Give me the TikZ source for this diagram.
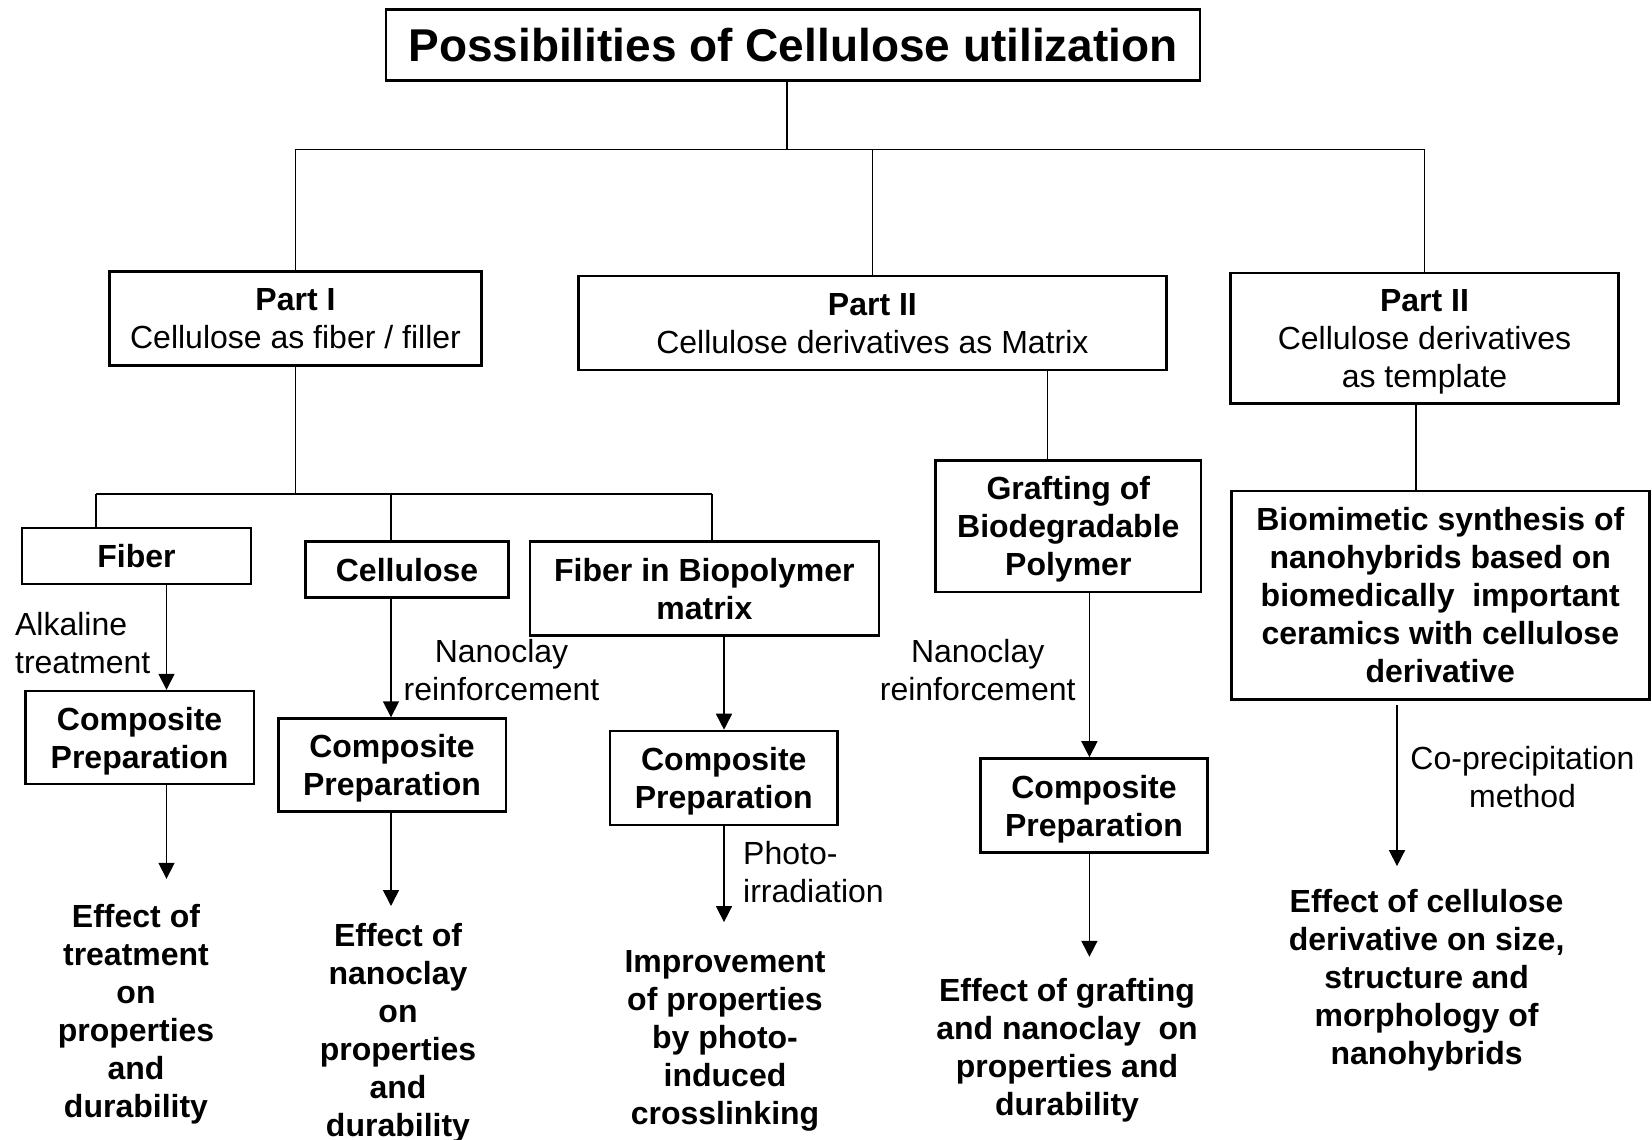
\documentclass[tikz,border=0pt]{standalone}
\usepackage{fontspec}
\setmainfont{Liberation Sans}
\usetikzlibrary{arrows.meta}
\tikzset{
  cbox/.style={draw, line width=1.3pt, inner sep=0pt, text depth=0pt, align=center, font=\fontsize{16pt}{19pt}\selectfont},
  bbox/.style={cbox, font=\fontsize{16pt}{19pt}\selectfont\bfseries},
  titlebox/.style={cbox, font=\fontsize{23pt}{27pt}\selectfont\bfseries},
  result/.style={inner sep=0pt, align=center, anchor=north, font=\fontsize{16pt}{19pt}\selectfont\bfseries},
  note/.style={inner sep=0pt, font=\fontsize{16pt}{19pt}\selectfont},
  link/.style={line width=0.8pt},
  arr/.style={link, -{Triangle[length=8pt, width=8pt]}},
}

\begin{document}
\begin{tikzpicture}[x=0.5pt, y=-0.5pt]
  \useasboundingbox (0,0) rectangle (1652,1139);
  \node[titlebox, minimum width=407pt, minimum height=35.75pt] (T) at (793,45) {Possibilities of Cellulose utilization};
  \node[cbox, minimum width=186pt, minimum height=47pt] (P1) at (295.5,318.7) {\textbf{Part I}\\Cellulose as fiber / filler};
  \node[cbox, minimum width=294pt, minimum height=47pt] (P2) at (872.4,323) {\textbf{Part II}\\Cellulose derivatives as Matrix};
  \node[cbox, minimum width=194pt, minimum height=65.3pt] (P3) at (1424.5,338.2) {\textbf{Part II}\\Cellulose derivatives\\as template};
  \node[bbox, minimum width=114.5pt, minimum height=28pt] (F1) at (136.5,556) {Fiber};
  \node[bbox, minimum width=101.75pt, minimum height=28pt] (F2) at (407,569.5) {Cellulose};
  \node[bbox, minimum width=174.4pt, minimum height=47pt] (F3) at (704.4,588.4) {Fiber in Biopolymer\\matrix};
  \node[bbox, minimum width=132.75pt, minimum height=65.85pt] (G) at (1068.3,526.3) {Grafting of\\Biodegradable\\Polymer};
  \node[bbox, minimum width=209pt, minimum height=104.3pt] (B) at (1440.3,595.3) {Biomimetic synthesis of\\nanohybrids based on\\biomedically\ \ important\\ceramics with cellulose\\derivative};
  \node[bbox, minimum width=114.3pt, minimum height=46.4pt] (C1) at (139.6,737.5) {Composite\\Preparation};
  \node[bbox, minimum width=113.8pt, minimum height=46.4pt] (C2) at (392,765) {Composite\\Preparation};
  \node[bbox, minimum width=113.8pt, minimum height=47pt] (C3) at (723.8,778) {Composite\\Preparation};
  \node[bbox, minimum width=113.3pt, minimum height=47pt] (C4) at (1094,805.5) {Composite\\Preparation};
  \node[result] (E1) at (136,904) {Effect of\\treatment\\on\\properties\\and\\durability};
  \node[result] (E2) at (398,923) {Effect of\\nanoclay\\on\\properties\\and\\durability};
  \node[result] (E3) at (725,950.5) {Improvement\\of properties\\by photo-\\induced\\crosslinking};
  \node[result] (E4) at (1067,978) {Effect of grafting\\and nanoclay\ \ on\\properties and\\durability};
  \node[result] (E5) at (1426.6,888.5) {Effect of cellulose\\derivative on size,\\structure and\\morphology of\\nanohybrids};
  \node[note, anchor=west, align=left] (L1) at (14.75,642.7) {Alkaline\\treatment};
  \node[note, align=center] (L2) at (501.5,670) {Nanoclay\\reinforcement};
  \node[note, anchor=west, align=left] (L3) at (742.8,872.4) {Photo-\\irradiation};
  \node[note, align=center] (L4) at (977.7,670) {Nanoclay\\reinforcement};
  \node[note, align=center] (L5) at (1522.5,777.5) {Co-precipitation\\method};

  \coordinate (hub) at (787,149.6);
  \coordinate (hub2) at (292,494);
  \coordinate (d1) at (96,494);
  \coordinate (d2) at (391,494);
  \coordinate (d3) at (712,494);
  \coordinate (a1) at (166.5,0);
  \coordinate (a3) at (724,0);
  \coordinate (a4) at (1089.4,0);
  \coordinate (a5) at (1397,0);
  \coordinate (g1) at (1047.3,0);
  \coordinate (b1) at (1416,0);

  \draw[link] (T.south -| hub) -- (hub);
  \draw[link] (P1.north) |- (hub) -| (P3.north);
  \draw[link] (P2.north) -- (P2.north |- hub);
  \draw[link] (P1.south) -- (P1.south |- hub2);
  \draw[link] (d1) -- (d3);
  \draw[link] (d1) -- (F1.north -| d1);
  \draw[link] (d2) -- (F2.north -| d2);
  \draw[link] (d3) -- (F3.north -| d3);
  \draw[link] (P2.south -| g1) -- (G.north -| g1);
  \draw[link] (P3.south -| b1) -- (B.north -| b1);

  \draw[arr] (F1.south -| a1) -- (C1.north -| a1);
  \draw[arr, shorten >=12.6pt] (C1.south -| a1) -- (E1.north -| a1);
  \draw[arr] (F2.south -| d2) -- (C2.north -| d2);
  \draw[arr, shorten >=8.5pt] (C2.south -| d2) -- (E2.north -| d2);
  \draw[arr] (F3.south -| a3) -- (C3.north -| a3);
  \draw[arr, shorten >=14.2pt] (C3.south -| a3) -- (E3.north -| a3);
  \draw[arr] (G.south -| a4) -- (C4.north -| a4);
  \draw[arr, shorten >=10.6pt] (C4.south -| a4) -- (E4.north -| a4);
  \draw[arr, shorten <=2pt, shorten >=11.2pt] (B.south -| a5) -- (E5.north -| a5);
\end{tikzpicture}
\end{document}
